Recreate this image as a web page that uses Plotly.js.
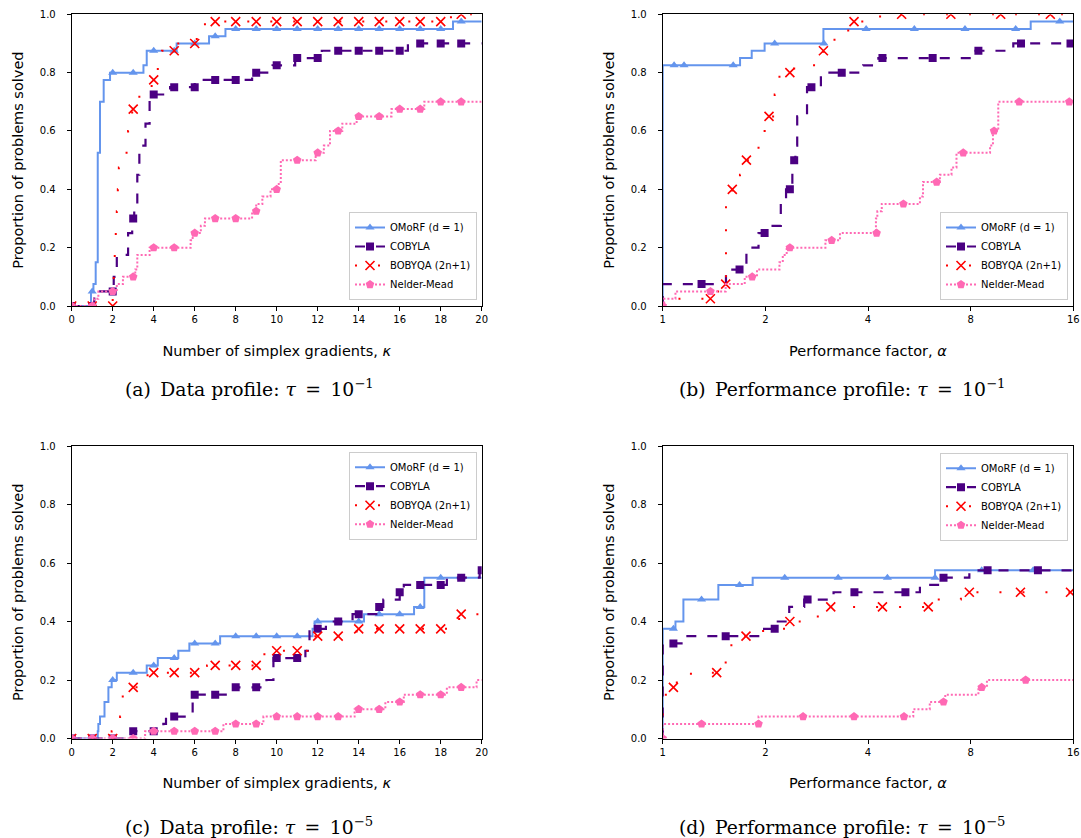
<!DOCTYPE html>
<html>
<head>
<meta charset="utf-8">
<script src="https://cdn.plot.ly/plotly-3.0.1.min.js"></script>
<style>
html,body{margin:0;padding:0;background:#ffffff;}
#chart{width:1081px;height:838px;}
</style>
</head>
<body>
<div id="chart"></div>
<script>
// ------------------------------------------------------------------ data
const seriesNames = ['OMoRF (d = 1)', 'COBYLA', 'BOBYQA (2n+1)', 'Nelder-Mead'];
const kappaTicks = [0, 2, 4, 6, 8, 10, 12, 14, 16, 18, 20];
const alphaTicks = [1, 2, 4, 8, 16];
const yTicks = [0, 0.2, 0.4, 0.6, 0.8, 1.0];
const kappaMarks = [0, 1, 2, 3, 4, 5, 6, 7, 8, 9, 10, 11, 12, 13, 14, 15, 16, 17, 18, 19];
const kappaMarks20 = [0, 1, 2, 3, 4, 5, 6, 7, 8, 9, 10, 11, 12, 13, 14, 15, 16, 17, 18, 19, 20];
const captions = [
  '(a)\u2002Data profile: <i>τ</i>\u2002=\u200210<sup>−1</sup>',
  '(b)\u2002Performance profile: <i>τ</i>\u2002=\u200210<sup>−1</sup>',
  '(c)\u2002Data profile: <i>τ</i>\u2002=\u200210<sup>−5</sup>',
  '(d)\u2002Performance profile: <i>τ</i>\u2002=\u200210<sup>−5</sup>'
];
const xTitleData = 'Number of simplex gradients, <i>κ</i>';
const xTitlePerf = 'Performance factor, <i>α</i>';
const yTitle = 'Proportion of problems solved';

// (a) data profile, tau = 1e-1
const omorfA_x = [0, 0.94, 1.06, 1.17, 1.27, 1.38, 1.56, 1.87, 3.5, 3.66, 5.12, 6.7, 7.5, 18.6, 20];
const omorfA_y = [0, 0.05, 0.075, 0.15, 0.525, 0.7, 0.775, 0.8, 0.825, 0.875, 0.9, 0.925, 0.95, 0.975, 0.975];
const omorfA_m = [0, 0.05, 0.8, 0.8, 0.875, 0.875, 0.9, 0.925, 0.95, 0.95, 0.95, 0.95, 0.95, 0.95, 0.95, 0.95, 0.95, 0.95, 0.95, 0.975];
const cobylaA_x = [0, 1.1, 2.05, 2.2, 2.75, 2.95, 3.05, 3.2, 3.3, 3.6, 3.8, 4.8, 6.0, 8.8, 9.8, 10.9, 12.2, 16.4, 20];
const cobylaA_y = [0, 0.05, 0.1, 0.175, 0.25, 0.3, 0.35, 0.45, 0.55, 0.625, 0.725, 0.75, 0.775, 0.8, 0.825, 0.85, 0.875, 0.9, 0.9];
const cobylaA_m = [0, 0, 0.05, 0.3, 0.725, 0.75, 0.75, 0.775, 0.775, 0.8, 0.825, 0.85, 0.85, 0.875, 0.875, 0.875, 0.875, 0.9, 0.9, 0.9];
const bobyqaA_x = [0, 2.0, 2.05, 2.1, 2.15, 2.2, 2.25, 2.3, 2.6, 2.75, 2.95, 3.3, 3.9, 4.2, 4.4, 5.2, 6.1, 6.5, 18.5, 20];
const bobyqaA_y = [0, 0.025, 0.1, 0.175, 0.25, 0.325, 0.4, 0.475, 0.525, 0.6, 0.675, 0.725, 0.775, 0.825, 0.875, 0.9, 0.925, 0.975, 1.0, 1.0];
const bobyqaA_m = [0, 0, 0, 0.675, 0.775, 0.875, 0.9, 0.975, 0.975, 0.975, 0.975, 0.975, 0.975, 0.975, 0.975, 0.975, 0.975, 0.975, 0.975, 1.0];
const nmA_x = [0, 1.1, 1.3, 2.2, 2.5, 3.1, 3.2, 3.8, 5.8, 5.9, 6.3, 6.5, 8.8, 9.0, 9.3, 9.7, 10.1, 10.2, 11.9, 12.3, 12.6, 13.2, 13.9, 15.6, 17.2, 20];
const nmA_y = [0, 0.025, 0.05, 0.075, 0.1, 0.125, 0.175, 0.2, 0.225, 0.25, 0.275, 0.3, 0.325, 0.35, 0.375, 0.4, 0.425, 0.5, 0.525, 0.55, 0.6, 0.625, 0.65, 0.675, 0.7, 0.7];
const nmA_m = [0, 0, 0.05, 0.1, 0.2, 0.2, 0.25, 0.3, 0.3, 0.325, 0.4, 0.5, 0.525, 0.6, 0.65, 0.65, 0.675, 0.675, 0.7, 0.7];

// (b) performance profile, tau = 1e-1
const omorfB_x = [1, 1, 1.686, 1.824, 1.99, 2.96, 12.0, 16];
const omorfB_y = [0, 0.825, 0.85, 0.875, 0.9, 0.95, 0.975, 0.975];
const omorfB_mx = [1.08, 1.155, 1.61, 2.13, 2.97, 3.95, 5.47, 7.70, 10.84, 14.6];
const omorfB_my = [0.825, 0.825, 0.825, 0.9, 0.9, 0.95, 0.95, 0.95, 0.95, 0.975];
const cobylaB_x = [1, 1, 1.533, 1.76, 1.91, 2.1, 2.22, 2.3, 2.4, 2.45, 2.48, 2.65, 2.91, 3.87, 4.29, 8.14, 10.67, 16];
const cobylaB_y = [0, 0.075, 0.125, 0.2, 0.25, 0.275, 0.35, 0.4, 0.5, 0.55, 0.65, 0.75, 0.8, 0.825, 0.85, 0.875, 0.9, 0.9];
const cobylaB_mx = [1.30, 1.68, 1.99, 2.36, 2.43, 2.73, 3.35, 4.41, 6.19, 8.43, 11.24, 15.7];
const cobylaB_my = [0.075, 0.125, 0.25, 0.4, 0.5, 0.75, 0.8, 0.85, 0.85, 0.875, 0.9, 0.9];
const bobyqaB_x = [1, 1.12, 1.45, 1.5, 1.533, 1.6, 1.685, 1.76, 1.91, 1.99, 2.05, 2.13, 2.2, 2.36, 2.43, 2.96, 3.19, 3.5, 3.64, 4.34, 16];
const bobyqaB_y = [0, 0.025, 0.05, 0.075, 0.35, 0.4, 0.45, 0.5, 0.55, 0.6, 0.65, 0.725, 0.79, 0.8, 0.825, 0.875, 0.925, 0.95, 0.975, 1.0, 1.0];
const bobyqaB_mx = [1.38, 1.53, 1.60, 1.76, 2.05, 2.36, 2.96, 3.64, 5.02, 7.0, 9.8, 13.7];
const bobyqaB_my = [0.025, 0.075, 0.4, 0.5, 0.65, 0.8, 0.875, 0.975, 1.0, 1.0, 1.0, 1.0];
const nmB_x = [1, 1.01, 1.09, 1.53, 1.74, 1.89, 2.2, 2.25, 2.31, 3.0, 3.31, 4.22, 4.26, 4.39, 5.68, 5.8, 6.5, 7.03, 7.27, 9.12, 9.3, 9.64, 16];
const nmB_y = [0, 0.025, 0.05, 0.075, 0.1, 0.125, 0.15, 0.175, 0.2, 0.225, 0.25, 0.3, 0.325, 0.35, 0.375, 0.425, 0.45, 0.475, 0.525, 0.55, 0.6, 0.7, 0.7];
const nmB_mx = [1, 1.38, 1.83, 2.36, 3.13, 4.24, 5.08, 6.36, 7.61, 9.37, 11.1, 15.57];
const nmB_my = [0, 0.05, 0.1, 0.2, 0.225, 0.25, 0.35, 0.425, 0.525, 0.6, 0.7, 0.7];

// (c) data profile, tau = 1e-5
const omorfC_x = [0, 1.27, 1.3, 1.38, 1.6, 1.79, 1.95, 2.2, 3.66, 4.2, 5.2, 5.74, 7.24, 11.75, 11.85, 14.26, 16.7, 17.2, 20];
const omorfC_y = [0, 0.025, 0.05, 0.075, 0.125, 0.175, 0.2, 0.225, 0.25, 0.275, 0.3, 0.325, 0.35, 0.375, 0.4, 0.425, 0.45, 0.55, 0.55];
const omorfC_m = [0, 0, 0.2, 0.225, 0.25, 0.275, 0.325, 0.325, 0.35, 0.35, 0.35, 0.35, 0.4, 0.4, 0.4, 0.425, 0.425, 0.45, 0.55, 0.55];
const cobylaC_x = [0, 2.9, 4.47, 4.6, 5.9, 5.95, 7.9, 9.5, 9.84, 11.4, 11.6, 12.4, 13.7, 15.0, 15.2, 16.0, 16.2, 18.3, 19.9, 20];
const cobylaC_y = [0, 0.025, 0.05, 0.075, 0.125, 0.15, 0.175, 0.2, 0.275, 0.3, 0.375, 0.4, 0.425, 0.45, 0.475, 0.5, 0.525, 0.55, 0.575, 0.575];
const cobylaC_m = [0, 0, 0, 0.025, 0.025, 0.075, 0.15, 0.15, 0.175, 0.175, 0.275, 0.275, 0.375, 0.4, 0.425, 0.45, 0.5, 0.525, 0.525, 0.55, 0.575];
const bobyqaC_x = [0, 1.95, 2.36, 2.49, 2.9, 3.7, 6.6, 9.3, 9.4, 11.5, 13.9, 18.9, 20];
const bobyqaC_y = [0, 0.025, 0.075, 0.15, 0.175, 0.225, 0.25, 0.275, 0.3, 0.35, 0.375, 0.425, 0.425];
const bobyqaC_m = [0, 0, 0, 0.175, 0.225, 0.225, 0.225, 0.25, 0.25, 0.25, 0.3, 0.3, 0.35, 0.35, 0.375, 0.375, 0.375, 0.375, 0.375, 0.425];
const nmC_x = [0, 3.58, 7.4, 9.35, 13.8, 15.3, 16.2, 18.3, 19.75, 20];
const nmC_y = [0, 0.025, 0.05, 0.075, 0.1, 0.125, 0.15, 0.175, 0.2, 0.2];
const nmC_m = [0, 0, 0, 0, 0.025, 0.025, 0.025, 0.025, 0.05, 0.05, 0.075, 0.075, 0.075, 0.075, 0.1, 0.1, 0.125, 0.15, 0.15, 0.175];

// (d) performance profile, tau = 1e-5
const omorfD_x = [1, 1, 1.09, 1.15, 1.456, 1.836, 6.29, 16];
const omorfD_y = [0, 0.375, 0.4, 0.475, 0.525, 0.55, 0.575, 0.575];
const omorfD_mx = [1.075, 1.30, 1.68, 2.28, 3.27, 4.56, 6.29, 8.62, 12.2];
const omorfD_my = [0.375, 0.475, 0.525, 0.55, 0.55, 0.55, 0.55, 0.575, 0.575];
const cobylaD_x = [1, 1, 1.16, 1.93, 2.15, 2.35, 2.6, 3.17, 5.68, 6.5, 7.93, 16];
const cobylaD_y = [0, 0.325, 0.35, 0.375, 0.4, 0.45, 0.475, 0.5, 0.525, 0.55, 0.575, 0.575];
const cobylaD_mx = [1.075, 1.53, 2.13, 2.66, 3.65, 5.15, 6.66, 8.97, 12.6];
const cobylaD_my = [0.325, 0.35, 0.375, 0.475, 0.5, 0.5, 0.55, 0.575, 0.575];
const bobyqaD_x = [1, 1, 1.05, 1.1, 1.21, 1.53, 1.59, 1.7, 1.97, 2.3, 2.85, 3.05, 6.4, 7.49, 16];
const bobyqaD_y = [0, 0.15, 0.175, 0.2, 0.225, 0.275, 0.325, 0.35, 0.375, 0.4, 0.425, 0.45, 0.475, 0.5, 0.5];
const bobyqaD_mx = [1.075, 1.44, 1.755, 2.36, 3.11, 4.41, 6.01, 7.93, 11.2, 15.7];
const bobyqaD_my = [0.175, 0.225, 0.35, 0.4, 0.45, 0.45, 0.45, 0.5, 0.5, 0.5];
const nmD_x = [1, 1, 1.91, 5.43, 6.07, 6.74, 8.43, 8.93, 16];
const nmD_y = [0, 0.05, 0.075, 0.1, 0.125, 0.15, 0.175, 0.2, 0.2];
const nmD_mx = [1, 1.30, 1.91, 2.58, 3.64, 5.1, 6.66, 8.62, 11.6];
const nmD_my = [0, 0.05, 0.05, 0.075, 0.075, 0.075, 0.125, 0.175, 0.2];

// ------------------------------------------------------------------ styles
const styles = [
  {color: '#6495ED', dash: 'solid', width: 2, symbol: 'triangle-up', size: 8},
  {color: '#4B0082', dash: '10px,11px', width: 2.2, symbol: 'square', size: 8},
  {color: '#FF0000', dash: '2px,21px', width: 2, symbol: 'x-thin-open', size: 9},
  {color: '#FF69B4', dash: '2px,2px', width: 2, symbol: 'pentagon', size: 9}
];

const panels = [
  {ax: '', series: [
    [omorfA_x, omorfA_y, kappaMarks, omorfA_m],
    [cobylaA_x, cobylaA_y, kappaMarks, cobylaA_m],
    [bobyqaA_x, bobyqaA_y, kappaMarks, bobyqaA_m],
    [nmA_x, nmA_y, kappaMarks, nmA_m]]},
  {ax: '2', series: [
    [omorfB_x, omorfB_y, omorfB_mx, omorfB_my],
    [cobylaB_x, cobylaB_y, cobylaB_mx, cobylaB_my],
    [bobyqaB_x, bobyqaB_y, bobyqaB_mx, bobyqaB_my],
    [nmB_x, nmB_y, nmB_mx, nmB_my]]},
  {ax: '3', series: [
    [omorfC_x, omorfC_y, kappaMarks, omorfC_m],
    [cobylaC_x, cobylaC_y, kappaMarks20, cobylaC_m],
    [bobyqaC_x, bobyqaC_y, kappaMarks, bobyqaC_m],
    [nmC_x, nmC_y, kappaMarks, nmC_m]]},
  {ax: '4', series: [
    [omorfD_x, omorfD_y, omorfD_mx, omorfD_my],
    [cobylaD_x, cobylaD_y, cobylaD_mx, cobylaD_my],
    [bobyqaD_x, bobyqaD_y, bobyqaD_mx, bobyqaD_my],
    [nmD_x, nmD_y, nmD_mx, nmD_my]]}
];

function markerOf(st) {
  const m = {symbol: st.symbol, size: st.size, color: st.color};
  if (st.symbol.indexOf('open') >= 0) m.line = {color: st.color, width: 1.6};
  else m.line = {width: 0};
  return m;
}

const traces = [];
panels.forEach(function (p) {
  p.series.forEach(function (s, i) {
    const st = styles[i];
    const xa = 'x' + p.ax, ya = 'y' + p.ax;
    const lineStyle = {color: st.color, width: st.width, dash: st.dash, shape: 'hv'};
    traces.push({type: 'scatter', mode: 'lines', x: s[0], y: s[1], xaxis: xa, yaxis: ya,
      line: lineStyle, showlegend: false, hoverinfo: 'skip'});
    traces.push({type: 'scatter', mode: 'markers', x: s[2], y: s[3], xaxis: xa, yaxis: ya,
      marker: markerOf(st), showlegend: false, hoverinfo: 'skip'});
    traces.push({type: 'scatter', mode: 'lines+markers', x: [null], y: [null], xaxis: xa, yaxis: ya,
      line: {color: st.color, width: st.width, dash: st.dash}, marker: markerOf(st),
      name: seriesNames[i], legend: 'legend' + p.ax, showlegend: true});
  });
});

// ------------------------------------------------------------------ layout
const W = 1081, H = 838;
const xDomL = [71.7 / W, 481.7 / W];
const xDomR = [662.7 / W, 1073.3 / W];
const yDomT = [1 - 306 / H, 1 - 14.3 / H];
const yDomB = [1 - 738.5 / H, 1 - 446 / H];

const tickFont = {family: 'DejaVu Sans, sans-serif', size: 10, color: '#000'};
const titleFont = {family: 'DejaVu Sans, sans-serif', size: 14.5, color: '#000'};

function xAxis(domain, anchor, isLog, title) {
  const a = {
    domain: domain, anchor: anchor, showgrid: false, zeroline: false,
    showline: true, mirror: true, linecolor: '#000', linewidth: 1,
    ticks: 'outside', ticklen: 4, tickwidth: 1, tickcolor: '#000',
    tickfont: tickFont, fixedrange: true,
    title: {text: title, font: titleFont, standoff: 21}
  };
  if (isLog) {
    a.type = 'log';
    a.range = [0, Math.log10(16)];
    a.tickvals = alphaTicks;
    a.ticktext = alphaTicks.map(String);
  } else {
    a.range = [0, 20];
    a.tickvals = kappaTicks;
  }
  return a;
}
function yAxis(domain, anchor) {
  return {
    domain: domain, anchor: anchor, range: [0, 1], showgrid: false, zeroline: false,
    showline: true, mirror: true, linecolor: '#000', linewidth: 1,
    ticks: 'outside', ticklen: 4, tickwidth: 1, tickcolor: '#000',
    tickvals: yTicks, tickformat: '.1f', tickfont: tickFont, fixedrange: true,
    ticklabelstandoff: 9,
    title: {text: yTitle, font: titleFont, standoff: 12}
  };
}
function legendAt(x, y, yanchor) {
  return {x: x, y: y, xanchor: 'right', yanchor: yanchor, xref: 'paper', yref: 'paper',
    bgcolor: 'rgba(255,255,255,0.85)', bordercolor: '#cccccc', borderwidth: 1,
    font: {family: 'DejaVu Sans, sans-serif', size: 10, color: '#000'},
    tracegroupgap: 0, itemwidth: 30};
}

const capFont = {family: 'DejaVu Serif, serif', size: 18.8, color: '#000'};
const capPos = [[249, 388], [842, 388], [249, 826], [842, 826]];
const annotations = capPos.map(function (c, i) {
  return {text: captions[i], xref: 'paper', yref: 'paper', x: c[0] / W, y: 1 - c[1] / H,
    xanchor: 'center', yanchor: 'middle', showarrow: false, font: capFont};
});

const layout = {
  width: W, height: H,
  margin: {l: 0, r: 0, t: 0, b: 0},
  paper_bgcolor: '#ffffff', plot_bgcolor: '#ffffff',
  font: {family: 'DejaVu Sans, sans-serif', color: '#000'},
  xaxis: xAxis(xDomL, 'y', false, xTitleData),
  yaxis: yAxis(yDomT, 'x'),
  xaxis2: xAxis(xDomR, 'y2', true, xTitlePerf),
  yaxis2: yAxis(yDomT, 'x2'),
  xaxis3: xAxis(xDomL, 'y3', false, xTitleData),
  yaxis3: yAxis(yDomB, 'x3'),
  xaxis4: xAxis(xDomR, 'y4', true, xTitlePerf),
  yaxis4: yAxis(yDomB, 'x4'),
  legend: legendAt(477 / W, 1 - 300 / H, 'bottom'),
  legend2: legendAt(1068 / W, 1 - 300 / H, 'bottom'),
  legend3: legendAt(477 / W, 1 - 451.7 / H, 'top'),
  legend4: legendAt(1068 / W, 1 - 452.7 / H, 'top'),
  annotations: annotations,
  showlegend: true
};

Plotly.newPlot('chart', traces, layout, {displayModeBar: false, staticPlot: true});
</script>
</body>
</html>
